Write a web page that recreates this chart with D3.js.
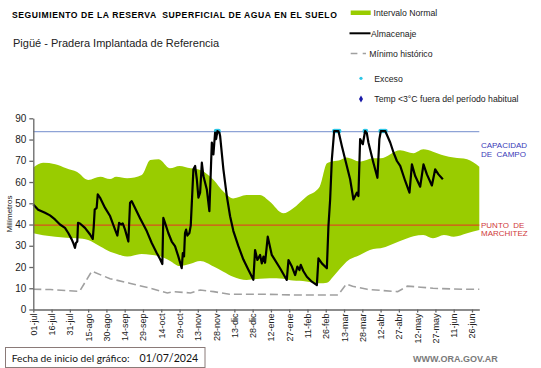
<!DOCTYPE html>
<html><head><meta charset="utf-8">
<script src="https://cdn.jsdelivr.net/npm/d3@7"></script>
<style>
html,body{margin:0;padding:0;background:#fff;}
svg{display:block;font-family:"Liberation Sans",Arial,sans-serif;}
</style></head>
<body><svg id="c" width="541" height="368"></svg>
<script>
// ---- data ----
const xTickLabels = ["01-jul","16-jul","31-jul","15-ago","30-ago","14-sep","29-sep","14-oct","29-oct","13-nov","28-nov","13-dic","28-dic","12-ene","27-ene","11-feb","26-feb","13-mar","28-mar","12-abr","27-abr","12-may","27-may","11-jun","26-jun"];
const xTickDays = [0,15,30,45,60,75,90,105,120,135,150,165,180,195,210,225,240,255,270,285,300,315,330,345,360];
const yTicks = [0,10,20,30,40,50,60,70,80,90];

const bandDays  = [0,8,18,27,36,45,55,63,68,77,89,96,103,112,120,129,137,148,156,164,175,186,194,205,213,224,235,241,246,252,257,268,279,285,301,312,320,328,337,345,356,366];
const bandUpper = [66.8,69.1,68.4,66.5,64.7,61,62.5,61.4,62.5,61.8,63.3,70.4,70.7,66.5,67.6,66.5,65.7,61,55.5,52.3,53.9,53.9,50.8,45.3,47.6,53.1,57.8,68.8,69.8,70.4,71.5,69.6,71.2,71.2,75,73.6,75.4,74.3,72.5,71.5,70.7,67.2];
const bandLower = [35.9,35,34.3,33.8,33.5,32.7,29.6,27.2,26.3,24.9,26.1,25.8,25.2,23,20.5,21.5,22.8,20.2,17.8,15.4,13.9,14.5,14.7,14.5,13.6,13.2,12.3,12.6,15.4,19.4,22.5,25.7,28.5,28.8,32.2,34.5,35.1,33.5,35.1,34.3,35.9,37.4];

const minDays = [0,14,36,38,48,63,79,96,110,115,129,137,148,161,189,216,250,257,262,274,287,299,307,318,328,352,366];
const minVals = [9.5,9.4,8.6,8.6,18,14.5,12.4,10,7.8,8.4,7.8,9.2,8.4,7.2,7.2,6.8,6.8,12,10.9,9.5,8.9,8.4,11,10.5,10,9.5,9.5];

const almDays = [0,4,9.6,13.7,17.8,21.9,26,28.7,31.5,32.8,34.2,35,36.1,36.7,38.3,42.4,46.6,48.8,49.6,50.4,52,52.9,54.8,58.9,63,67.1,69,70.4,72,73.4,75.3,78,79.4,80.8,83.5,87.6,90.3,93.1,97.2,101.3,104,105.9,106.7,108.1,110.8,113.6,116.3,119,121.8,122.7,123.7,124.5,125.4,126.4,128.1,129.2,131.4,132.8,134.2,135.5,136.9,138.3,139.6,142.4,144.5,146.5,147.8,149.2,150,151.1,152.7,153.3,156,158.8,161.5,164.2,168.3,172.4,176.5,180.6,182,183.9,186.1,187.5,188.9,190.2,192.4,195.7,202.5,208,209.4,212.2,214.9,216.7,218.4,219.5,221.7,224.5,228.6,232.7,234,236.8,240.9,242.2,243.6,245,246.9,250.4,253.2,255.9,260,262.7,265.5,266.8,268.2,270.4,272.3,273.7,275,279.1,282.4,284,285.2,288.8,292.9,295.6,298.4,301.1,305.2,308.7,310.7,313.4,317.5,320.2,323,327.1,329.8,332.5,336.1];
const almVals = [49.4,47,45.5,44.3,42.4,40,38.4,36,33,31.3,29,31.3,32,40.8,40.5,38.4,35.3,33.2,39,47,47.8,54.2,52.6,47.8,44,37.6,34.8,40.8,40,40.5,37.6,32,50.2,51,47.8,43,40,36.9,31.3,26.6,23.8,21.4,43.1,40.8,36,32,29.8,25,19.5,26.6,25,36,37.6,34.8,36,39.5,66,67.6,61.3,52.6,55,69.1,62.8,56.5,46.3,78.6,73,83.3,80.2,84,83.3,81.7,66,53.4,43.9,36.9,29.8,23.5,18.7,14,28,23.3,25.7,21.7,24.9,22,34.3,25.7,19.4,13.9,23.3,20.2,16.2,20.2,18.6,21,18,15.4,13.1,11.5,24.1,21.7,19.4,39.2,51.8,70.7,84,84,77,70.7,61.3,51.8,55,53.4,80.2,77.8,84,83,78.6,69.1,62,80.2,84,84,78.6,73.9,69.9,67.6,60.5,55,68.3,62.8,57.8,68.3,63.6,58.4,66,63.6,61.3];

const excesoDays = [150,151,152,247,248,249,250,251,272,273,285,286,287,288,289];
const excesoVals = [84,84,84,84,84,84,84,84,84,84,84,84,84,84,84];

const capacidadCampo = 83.7;
const puntoMarchitez = 39.7;

// ---- drawing ----
const svg = d3.select("#c");
const x = d3.scaleLinear().domain([0,366]).range([33.3,479.3]);
const y = d3.scaleLinear().domain([0,90]).range([309.5,118.3]);

// band
const band = bandDays.map((d,i)=>({d, u:bandUpper[i], l:bandLower[i]}));
svg.append("path").datum(band)
  .attr("d", d3.area().x(p=>x(p.d)).y0(p=>y(p.l)).y1(p=>y(p.u)).curve(d3.curveMonotoneX))
  .attr("fill","#99cc00");

// reference lines
svg.append("line").attr("x1",x(0)).attr("x2",x(366)).attr("y1",y(capacidadCampo)).attr("y2",y(capacidadCampo))
  .attr("stroke","#8ea3d6").attr("stroke-width",1.2);
svg.append("line").attr("x1",x(0)).attr("x2",x(366)).attr("y1",y(puntoMarchitez)).attr("y2",y(puntoMarchitez))
  .attr("stroke","#d9501c").attr("stroke-width",1.2);

// minimum
svg.append("path").datum(minDays.map((d,i)=>[d,minVals[i]]))
  .attr("d", d3.line().x(p=>x(p[0])).y(p=>y(p[1])))
  .attr("fill","none").attr("stroke","#a0a0a0").attr("stroke-width",1.6).attr("stroke-dasharray","8,4");

// exceso
svg.append("g").selectAll("circle").data(excesoDays.map((d,i)=>[d,excesoVals[i]])).join("circle")
  .attr("cx",p=>x(p[0])).attr("cy",p=>y(p[1])).attr("r",2.3).attr("fill","#2cc6e6");

// almacenaje
svg.append("path").datum(almDays.map((d,i)=>[d,almVals[i]]))
  .attr("d", d3.line().x(p=>x(p[0])).y(p=>y(p[1])))
  .attr("fill","none").attr("stroke","#000").attr("stroke-width",2.2).attr("stroke-linejoin","round");

// axes
const yAxis = svg.append("g").attr("transform",`translate(${x(0)},0)`)
  .call(d3.axisLeft(y).tickValues(yTicks).tickSize(4).tickSizeOuter(0).tickPadding(3));
yAxis.selectAll("text").attr("font-size",10).attr("fill","#222").attr("font-family","Liberation Sans, Arial, sans-serif");
yAxis.selectAll("path,line").attr("stroke","#666").attr("stroke-width",1.3);

const xAxis = svg.append("g").attr("transform",`translate(0,${y(0)})`)
  .call(d3.axisBottom(x).tickValues(xTickDays).tickFormat((d,i)=>xTickLabels[i]).tickSize(3).tickSizeOuter(0));
xAxis.selectAll("path,line").attr("stroke","#666").attr("stroke-width",1.3);
xAxis.selectAll("text").attr("font-size",9).attr("fill","#222").attr("font-family","Liberation Sans, Arial, sans-serif")
  .attr("transform","rotate(-90)").attr("text-anchor","end").attr("x",-4).attr("y",0).attr("dy","0.33em");

// y label
svg.append("text").attr("transform","translate(12,214) rotate(-90)").attr("text-anchor","middle")
  .attr("font-size",8).attr("fill","#222").text("Milímetros");

// right labels
const rl = svg.append("g").attr("font-size",8);
rl.append("text").attr("x",481).attr("y",147.5).attr("fill","#3a3ab8").text("CAPACIDAD");
rl.append("text").attr("x",481).attr("y",156.7).attr("fill","#3a3ab8").attr("xml:space","preserve").text("DE  CAMPO");
rl.append("text").attr("x",481).attr("y",227.7).attr("fill","#d03a3a").attr("xml:space","preserve").text("PUNTO  DE");
rl.append("text").attr("x",481).attr("y",236).attr("fill","#d03a3a").text("MARCHITEZ");

// titles
svg.append("text").attr("x",12).attr("y",17.5).attr("font-size",8.6).attr("letter-spacing",0.55).attr("font-weight","bold").attr("fill","#000")
  .attr("xml:space","preserve").text("SEGUIMIENTO DE LA RESERVA  SUPERFICIAL DE AGUA EN EL SUELO");
svg.append("text").attr("x",13).attr("y",47.3).attr("font-size",11).attr("fill","#222")
  .text("Pigüé - Pradera Implantada de Referencia");

// legend
const lg = svg.append("g").attr("font-size",8.7).attr("fill","#222");
lg.append("rect").attr("x",350.7).attr("y",10.5).attr("width",20).attr("height",4.5).attr("fill","#99cc00");
lg.append("text").attr("x",373.5).attr("y",16).text("Intervalo Normal");
lg.append("line").attr("x1",349.5).attr("x2",370.5).attr("y1",33.3).attr("y2",33.3).attr("stroke","#000").attr("stroke-width",2);
lg.append("text").attr("x",371).attr("y",36.8).text("Almacenaje");
lg.append("line").attr("x1",350.7).attr("x2",366).attr("y1",53.5).attr("y2",53.5).attr("stroke","#a0a0a0").attr("stroke-width",1.4).attr("stroke-dasharray","6.7,5.3");
lg.append("text").attr("x",369.3).attr("y",57).text("Mínimo histórico");
lg.append("circle").attr("cx",361).attr("cy",78.3).attr("r",1.6).attr("fill","#2cc6e6");
lg.append("text").attr("x",374.3).attr("y",81.5).text("Exceso");
lg.append("path").attr("d",d3.symbol(d3.symbolDiamond,14)()).attr("transform","translate(361,99)").attr("fill","#1a1aa8");
lg.append("text").attr("x",374.3).attr("y",102.3).text("Temp <3°C fuera del período habitual");

// footer
svg.append("rect").attr("x",5.5).attr("y",347.5).attr("width",199.5).attr("height",20).attr("fill","none").attr("stroke","#8a7a78").attr("stroke-width",1);
svg.append("text").attr("x",11.7).attr("y",361.7).attr("font-family","Lato, 'Open Sans', sans-serif").attr("font-size",10.2).attr("fill","#111")
  .text("Fecha de inicio del gráfico:");
svg.append("text").attr("x",139.5).attr("y",361.7).attr("font-family","Lato, 'Open Sans', sans-serif").attr("font-size",10.6).attr("fill","#111")
  .text("01/07/2024");
svg.append("text").attr("x",413).attr("y",361.7).attr("font-size",9).attr("font-weight","bold").attr("fill","#7a7a7a")
  .text("WWW.ORA.GOV.AR");
</script></body></html>
